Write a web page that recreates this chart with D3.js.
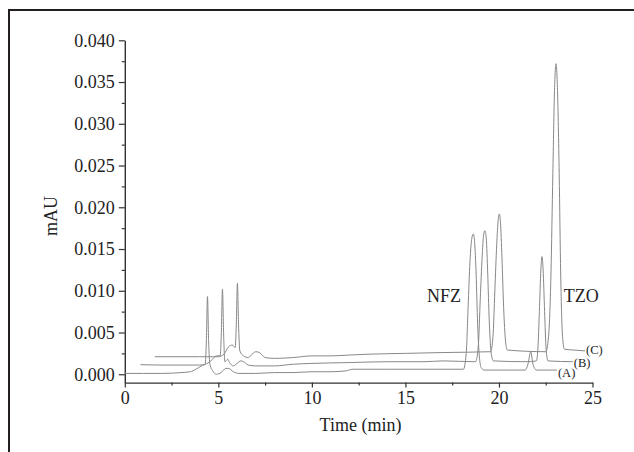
<!DOCTYPE html>
<html>
<head>
<meta charset="utf-8">
<title>Chromatogram NFZ / TZO</title>
<script src="https://d3js.org/d3.v7.min.js"></script>
<style>
  body { margin: 0; background: #fff; }
  text { font-family: "Liberation Serif", "Times New Roman", serif; fill: #222; }
</style>
</head>
<body>
<div id="chart"></div>
<script>
// time (min), signal (mAU)
var traceA = [
  [0, 0.0001], [1, 0.0001], [2, 0.0001], [3, 0.0002], [3.5, 0.0003], [3.8, 0.0006],
  [4.1, 0.0010], [4.3, 0.0012], [4.36, 0.0040], [4.42, 0.0093], [4.48, 0.0040],
  [4.55, 0.0012], [4.7, 0.0004], [4.9, 0.0000], [5.15, 0.0002], [5.4, 0.0007],
  [5.55, 0.0007], [5.8, 0.0003], [6.1, 0.0001], [7, 0.0001], [8, 0.0002], [9, 0.0002],
  [10, 0.0003], [11, 0.0003], [11.8, 0.0004], [12.2, 0.0006], [14, 0.0006], [16, 0.0006],
  [18.1, 0.0006], [18.25, 0.0025], [18.35, 0.0080], [18.45, 0.0135], [18.55, 0.0163],
  [18.63, 0.0168], [18.7, 0.0158], [18.78, 0.0120], [18.86, 0.0060], [18.95, 0.0022],
  [19.05, 0.0008], [19.2, 0.0005], [21.4, 0.0005], [21.55, 0.0012], [21.7, 0.0027],
  [21.82, 0.0012], [22.0, 0.0005], [23.1, 0.0005]
];
var traceB = [
  [0.84, 0.00115], [2, 0.0011], [3, 0.0011], [4, 0.0011], [4.3, 0.0012], [4.6, 0.0016],
  [4.9, 0.0022], [5.1, 0.0022], [5.16, 0.0050], [5.22, 0.0102], [5.28, 0.0050],
  [5.35, 0.0015], [5.5, 0.0018], [5.6, 0.0014], [5.8, 0.0010], [6.0, 0.0013],
  [6.2, 0.0016], [6.35, 0.0015], [6.6, 0.0011], [7, 0.0010], [8, 0.0010], [9, 0.0012],
  [10, 0.0013], [12, 0.0014], [14, 0.0015], [16, 0.0015], [17, 0.0016], [18.75, 0.0015],
  [18.9, 0.0035], [19.0, 0.0090], [19.1, 0.0140], [19.18, 0.0167], [19.25, 0.0172],
  [19.32, 0.0163], [19.4, 0.0120], [19.48, 0.0065], [19.57, 0.0028], [19.7, 0.0016],
  [21.5, 0.0015], [22.0, 0.0016], [22.08, 0.0030], [22.16, 0.0075], [22.24, 0.0125],
  [22.3, 0.0141], [22.36, 0.0125], [22.44, 0.0075], [22.52, 0.0030], [22.62, 0.0016],
  [23.95, 0.0015]
];
var traceC = [
  [1.6, 0.0021], [3, 0.0021], [4, 0.0021], [5, 0.0021], [5.3, 0.0024], [5.55, 0.0033],
  [5.75, 0.0035], [5.9, 0.0032], [5.96, 0.0060], [6.02, 0.0109], [6.08, 0.0060],
  [6.15, 0.0028], [6.35, 0.0022], [6.6, 0.0020], [6.85, 0.0025], [7.0, 0.0027],
  [7.2, 0.0026], [7.5, 0.0020], [8, 0.0019], [9, 0.0020], [10, 0.0022], [11, 0.0022],
  [12, 0.0023], [13, 0.0024], [15, 0.0025], [17, 0.0026], [19.55, 0.0027],
  [19.68, 0.0045], [19.78, 0.0100], [19.88, 0.0155], [19.96, 0.0185], [20.02, 0.0192],
  [20.08, 0.0182], [20.16, 0.0140], [20.25, 0.0080], [20.35, 0.0040], [20.45, 0.0029],
  [22.5, 0.0027], [22.65, 0.0045], [22.78, 0.0120], [22.88, 0.0240], [22.97, 0.0340],
  [23.05, 0.0372], [23.13, 0.0340], [23.22, 0.0240], [23.3, 0.0120], [23.4, 0.0045],
  [23.5, 0.0030], [24.0, 0.0029], [24.6, 0.0028]
];

var traceNames = ["(A)", "(B)", "(C)"];
var peakNames = ["NFZ", "TZO"];
var peakTimes = [17.97, 24.4];   // where the compound labels sit (min)
var peakLevel = 0.0094;          // label height (mAU)

var xTicks = [0, 5, 10, 15, 20, 25];
var xMinor = [2.5, 7.5, 12.5, 17.5, 22.5];
var yTicks = [0, 0.005, 0.010, 0.015, 0.020, 0.025, 0.030, 0.035, 0.040];
var yMinor = [0.0025, 0.0075, 0.0125, 0.0175, 0.0225, 0.0275, 0.0325, 0.0375];

var W = 634, H = 452;
var svg = d3.select("#chart").append("svg")
  .attr("width", W).attr("height", H);

// frame on top and left
svg.append("path")
  .attr("d", "M9,452 V10 H634")
  .attr("fill", "none").attr("stroke", "#231f20").attr("stroke-width", 2);

var x = d3.scaleLinear().domain([0, 25]).range([124.8, 592.5]);
var y = d3.scaleLinear().domain([-0.001, 0.040]).range([382.6, 40.3]);

var axisColor = "#333";

// minor ticks first so the axis line sits on top
svg.append("g")
  .attr("transform", "translate(0," + y.range()[0] + ")")
  .call(d3.axisBottom(x).tickValues(xMinor).tickSize(3).tickFormat(""))
  .call(function (g) { g.select(".domain").remove(); });
svg.append("g")
  .attr("transform", "translate(" + x.range()[0] + ",0)")
  .call(d3.axisLeft(y).tickValues(yMinor).tickSize(3).tickFormat(""))
  .call(function (g) { g.select(".domain").remove(); });

var xAxis = svg.append("g")
  .attr("transform", "translate(0," + y.range()[0] + ")")
  .call(d3.axisBottom(x).tickValues(xTicks).tickSize(5).tickSizeOuter(0).tickPadding(4));
var yAxis = svg.append("g")
  .attr("transform", "translate(" + x.range()[0] + ",0)")
  .call(d3.axisLeft(y).tickValues(yTicks).tickSize(6).tickSizeOuter(0).tickPadding(4)
    .tickFormat(d3.format(".3f")));

svg.selectAll(".tick line").attr("stroke", axisColor).attr("stroke-width", 1.2);
svg.selectAll(".domain").attr("stroke", axisColor).attr("stroke-width", 1.4);
svg.selectAll(".tick text")
  .style("font-family", "'Liberation Serif', 'Times New Roman', serif")
  .style("font-size", "18px").attr("fill", "#222");

// traces
var line = d3.line()
  .x(function (d) { return x(d[0]); })
  .y(function (d) { return y(d[1]); })
  .curve(d3.curveMonotoneX);

var traces = [traceA, traceB, traceC];
svg.append("g").selectAll("path")
  .data(traces)
  .enter().append("path")
    .attr("d", line)
    .attr("fill", "none")
    .attr("stroke", "#888")
    .attr("stroke-width", 1);

// (A) (B) (C) at the end of each trace
svg.append("g").selectAll("text")
  .data(traces)
  .enter().append("text")
    .attr("x", function (d) { return x(d[d.length - 1][0]) + 1; })
    .attr("y", function (d, i) { return y(d[d.length - 1][1]) + [3, 1, -1][i]; })
    .attr("dominant-baseline", "central")
    .style("font-size", "12.5px")
    .text(function (d, i) { return traceNames[i]; });

// compound labels
svg.append("g").selectAll("text")
  .data(peakNames)
  .enter().append("text")
    .attr("x", function (d, i) { return x(peakTimes[i]); })
    .attr("y", y(peakLevel))
    .attr("text-anchor", function (d, i) { return i === 0 ? "end" : "middle"; })
    .attr("dominant-baseline", "central")
    .style("font-size", "18px")
    .text(function (d) { return d; });

// axis titles
svg.append("text")
  .attr("x", 360.5).attr("y", 425)
  .attr("text-anchor", "middle")
  .attr("dominant-baseline", "central")
  .style("font-size", "18px")
  .text("Time (min)");

svg.append("text")
  .attr("transform", "translate(51,216) rotate(-90)")
  .attr("text-anchor", "middle")
  .attr("dominant-baseline", "central")
  .style("font-size", "18px")
  .text("mAU");
</script>
</body>
</html>
